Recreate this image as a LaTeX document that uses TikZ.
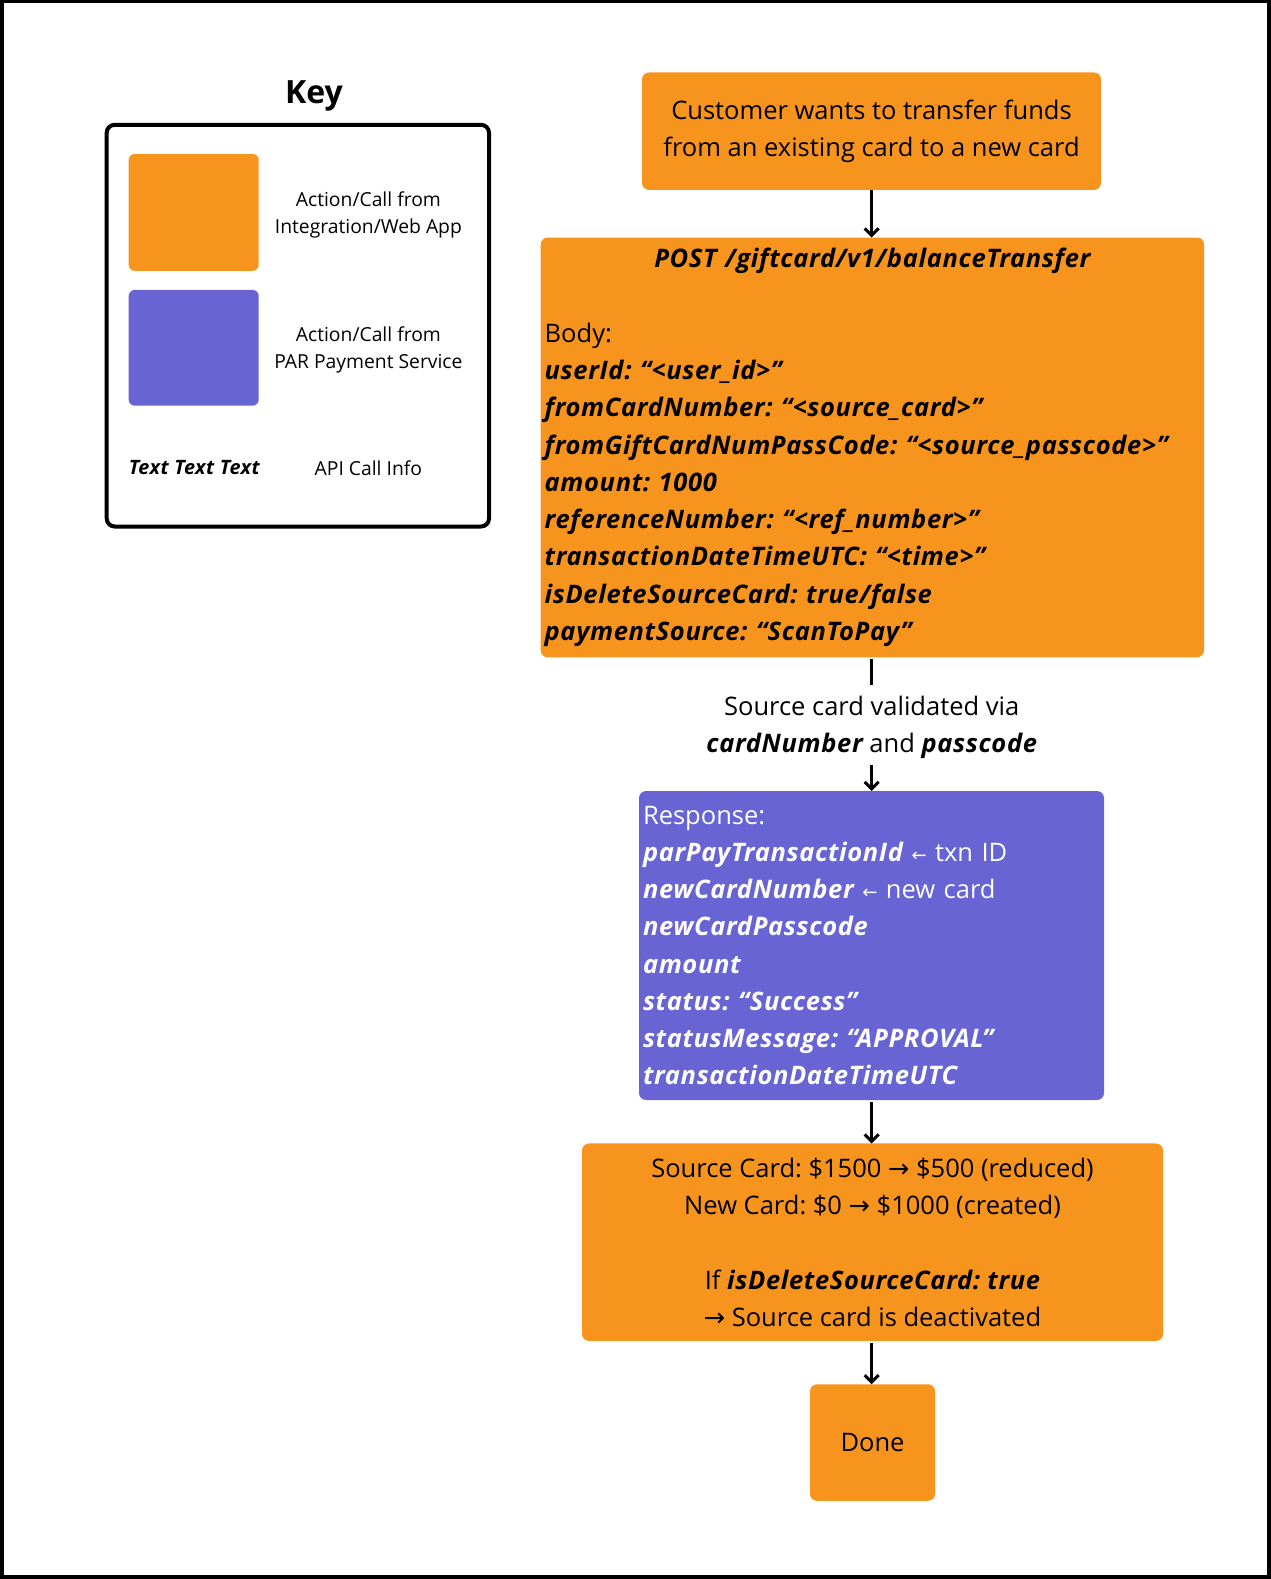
\documentclass[tikz,border=0pt]{standalone}
\usepackage{fontspec}
\setmainfont{Open Sans}[BoldItalicFeatures={LetterSpace=2.5}]
\newfontfamily\arrowfont{DejaVu Sans}
\usetikzlibrary{arrows.meta}
\definecolor{actorange}{RGB}{247,148,30}
\definecolor{parpurple}{RGB}{104,100,211}
\newcommand{\bi}[1]{{\bfseries\itshape #1}}
\newcommand{\ra}{{\arrowfont\char"2192}}
\newcommand{\sla}{{\arrowfont\fontsize{18}{20}\selectfont\char"2190}}
\frenchspacing
\begin{document}
\begin{tikzpicture}[x=1pt,y=-1pt,
  box/.style={rounded corners=7pt, inner sep=0pt, outer sep=0pt,
    font=\fontsize{25.5}{37.24}\selectfont},
  orangebox/.style={box, fill=actorange, text=black},
  purplebox/.style={box, fill=parpurple, text=white},
  flow/.style={line width=3pt, -{Straight Barb[length=7pt,width=14pt,line width=3pt]}},
  plain/.style={line width=3pt},
  keylabel/.style={font=\fontsize{19.3}{27}\selectfont, align=center, inner sep=0pt},
]
\useasboundingbox (0,0) rectangle (1271,1579);
\draw[line width=4pt] (1.5,1.5) rectangle (1269,1577);

% Key
\node[font=\fontsize{32}{36}\selectfont\bfseries, inner sep=0pt] (keytitle) at (314,96) {Key};
\draw[line width=4pt, rounded corners=8pt] (106.7,124.8) rectangle (489,526.5);
\node[fill=actorange, rounded corners=6pt, minimum width=130pt, minimum height=116.8pt, inner sep=0pt] (keyorange) at (193.7,212.4) {};
\node[fill=parpurple, rounded corners=6pt, minimum width=130pt, minimum height=115.7pt, inner sep=0pt] (keypurple) at (193.7,347.8) {};
\node[keylabel] (keyorangelbl) at (368.4,214.5) {Action/Call from\\Integration/Web App};
\node[keylabel] (keypurplelbl) at (368.4,350.3) {Action/Call from\\PAR Payment Service};
\node[keylabel, font=\fontsize{19.8}{27}\selectfont\bfseries\itshape] (keytext) at (194.3,468) {Text Text Text};
\node[keylabel] (keyapi) at (368.4,468) {API Call Info};

% Flow
\node[orangebox, minimum width=459pt, minimum height=117.5pt, align=center] (start) at (871.5,131.2)
  {Customer wants to transfer funds\\from an existing card to a new card};

\node[orangebox, minimum width=663.3pt, minimum height=419.8pt, text width=655.3pt, align=left] (post) at (872.35,447.4)
  {\makebox[\linewidth][c]{\bi{POST /giftcard/v1/balanceTransfer}}\\[37.24pt]
   Body:\\
   \bi{userId: “<user\_id>”}\\
   \bi{fromCardNumber: “<source\_card>”}\\
   \bi{fromGiftCardNumPassCode: “<source\_passcode>”}\\
   \bi{amount: 1000}\\
   \bi{referenceNumber: “<ref\_number>”}\\
   \bi{transactionDateTimeUTC: “<time>”}\\
   \bi{isDeleteSourceCard: true/false}\\
   \bi{paymentSource: “ScanToPay”}};

\node[font=\fontsize{25.5}{37.24}\selectfont, align=center, inner sep=0pt] (validated) at (871.7,727.2)
  {Source card validated via\\\bi{cardNumber} and \bi{passcode}};

\node[purplebox, minimum width=465pt, minimum height=309pt, text width=457pt, align=left] (resp) at (871.5,945.5)
  {Response:\\
   \bi{parPayTransactionId} \sla\ txn ID\\
   \bi{newCardNumber} \sla\ new card\\
   \bi{newCardPasscode}\\
   \bi{amount}\\
   \bi{status: “Success”}\\
   \bi{statusMessage: “APPROVAL”}\\
   \bi{transactionDateTimeUTC}};

\node[orangebox, minimum width=581pt, minimum height=197.5pt, align=center] (result) at (872.5,1242.2)
  {Source Card: \$1500 \ra{} \$500 (reduced)\\
   New Card: \$0 \ra{} \$1000 (created)\\[37.24pt]
   If \bi{isDeleteSourceCard: true}\\
   \ra{} Source card is deactivated};

\node[orangebox, minimum width=125pt, minimum height=116.5pt] (done) at (872.5,1442.5) {Done};

\coordinate (vtop) at (871.7,684.5);
\coordinate (vbot) at (871.7,765);
\draw[flow] (start.south -| 871.7,0) -- (post.north -| 871.7,0);
\draw[plain] ([yshift=-2pt]post.south -| 871.7,0) -- (vtop);
\draw[flow] (vbot) -- (resp.north -| 871.7,0);
\draw[flow] ([yshift=-2pt]resp.south -| 871.7,0) -- (result.north -| 871.7,0);
\draw[flow] ([yshift=-2pt]result.south -| 871.7,0) -- (done.north -| 871.7,0);
\end{tikzpicture}
\end{document}
